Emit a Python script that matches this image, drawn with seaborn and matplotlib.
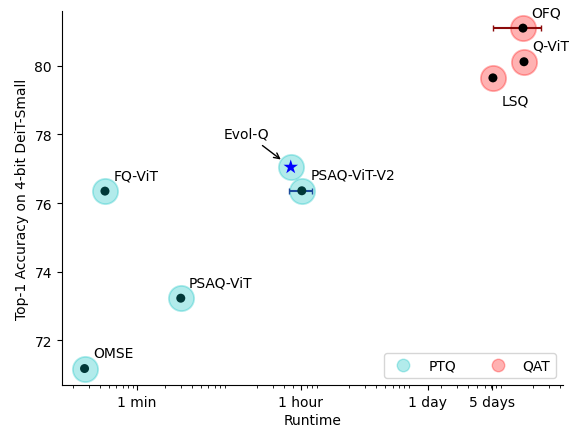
import matplotlib
matplotlib.use("Agg")
import matplotlib.pyplot as plt
import seaborn as sns
import pandas as pd
from matplotlib.lines import Line2D

# ---- data (runtime in minutes) ----
methods = ["OMSE", "FQ-ViT", "PSAQ-ViT", "PSAQ-ViT-V2", "Evol-Q", "LSQ", "Q-ViT", "OFQ"]
runtime_min = [0.27, 0.45, 3.0, 62, 47, 7400, 16100, 15700]
accuracy = [71.18, 76.35, 73.23, 76.36, 77.05, 79.65, 80.12, 81.10]
category = ["PTQ", "PTQ", "PTQ", "PTQ", "PTQ", "QAT", "QAT", "QAT"]

err_methods = ["PSAQ-ViT-V2", "OFQ"]
err_low = [45, 7400]
err_high = [80, 24600]

tick_values = [1, 60, 1440, 7200]
tick_labels = ["1 min", "1 hour", "1 day", "5 days"]

df = pd.DataFrame({"method": methods, "runtime": runtime_min,
                   "accuracy": accuracy, "category": category})

fig, ax = plt.subplots(figsize=(5.78, 4.27), dpi=100)
fig.subplots_adjust(left=0.107, right=0.974, bottom=0.096, top=0.972)

halo_colors = {"PTQ": "c", "QAT": "r"}
for cat, col in halo_colors.items():
    sub = df[df["category"] == cat]
    sns.scatterplot(data=sub, x="runtime", y="accuracy", s=330, color=col,
                    edgecolor=col, linewidth=1.3, alpha=0.3, ax=ax,
                    zorder=2, legend=False)

# error bars
err_colors = {"PSAQ-ViT-V2": "#1c4b9c", "OFQ": "#8b0a0a"}
for m, lo, hi in zip(err_methods, err_low, err_high):
    row = df[df["method"] == m].iloc[0]
    x, y = row["runtime"], row["accuracy"]
    ax.errorbar([x], [y], xerr=[[x - lo], [hi - x]], fmt="none",
                ecolor=err_colors[m], elinewidth=1.5, capsize=2.5, zorder=3)

# center dots
dots_ptq = df[(df["category"] == "PTQ") & (df["method"] != "Evol-Q")]
dots_qat = df[df["category"] == "QAT"]
sns.scatterplot(data=dots_ptq, x="runtime", y="accuracy", s=42, color="#003838",
                edgecolor="none", ax=ax, zorder=4, legend=False)
sns.scatterplot(data=dots_qat, x="runtime", y="accuracy", s=42, color="black",
                edgecolor="none", ax=ax, zorder=4, legend=False)
star = df[df["method"] == "Evol-Q"]
sns.scatterplot(data=star, x="runtime", y="accuracy", s=120, marker="*",
                color="blue", edgecolor="none", ax=ax, zorder=5, legend=False)

# labels
for _, r in df.iterrows():
    m = r["method"]
    if m == "Evol-Q":
        ax.annotate(m, xy=(r["runtime"], r["accuracy"]), xytext=(-32, 21.5),
                    textcoords="offset points", ha="center", va="baseline",
                    fontsize=10,
                    arrowprops=dict(arrowstyle="->", color="black", lw=1,
                                    shrinkA=3, shrinkB=9))
    elif m == "LSQ":
        ax.annotate(m, xy=(r["runtime"], r["accuracy"]), xytext=(6, -11),
                    textcoords="offset points", ha="left", va="top", fontsize=10)
    else:
        ax.annotate(m, xy=(r["runtime"], r["accuracy"]), xytext=(6, 8.5),
                    textcoords="offset points", ha="left", va="baseline",
                    fontsize=10)

ax.set_xscale("log")
ax.set_xlim(0.153, 42700)
ax.set_ylim(70.7, 81.6)
ax.set_xticks(tick_values)
ax.set_xticklabels(tick_labels)
ax.tick_params(labelsize=10)
ax.set_xlabel("Runtime", fontsize=10, labelpad=3)
ax.set_ylabel("Top-1 Accuracy on 4-bit DeiT-Small", fontsize=10)
sns.despine(ax=ax)

handles = [Line2D([0], [0], marker="o", linestyle="none", markersize=9,
                  markerfacecolor="c", markeredgecolor="c", alpha=0.3,
                  markeredgewidth=1.0),
           Line2D([0], [0], marker="o", linestyle="none", markersize=9,
                  markerfacecolor="r", markeredgecolor="r", alpha=0.3,
                  markeredgewidth=1.0)]
ax.legend(handles, ["PTQ", "QAT"], loc="lower right", ncol=2, fontsize=10)

fig.savefig("out.png", dpi=100)
